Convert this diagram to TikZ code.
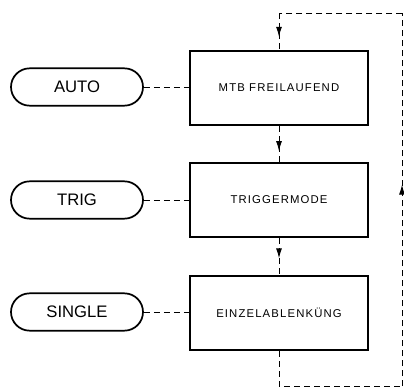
\documentclass[tikz,border=0pt]{standalone}
\usepackage{fontspec}
\setmainfont{Liberation Sans}
\usetikzlibrary{arrows.meta,positioning,shapes.misc,decorations.markings}
\tikzset{
  pill/.style  = {draw, line width=1.3pt, rounded rectangle, minimum width=103pt,
                  minimum height=28pt, inner sep=2pt, font=\fontsize{12.5}{14}\selectfont},
  blk/.style   = {draw, line width=1.5pt, minimum width=133pt, minimum height=56pt,
                  inner sep=2pt, font=\fontsize{8.5}{10}\selectfont\addfontfeatures{LetterSpace=10}},
  link/.style  = {dash pattern=on 4.5pt off 3pt, line width=0.75pt},
  midar/.style = {link, postaction={decorate}, decoration={markings,
                  mark=at position #1 with {\pgfsetdash{}{0pt}\arrow{Latex[length=7.5pt,width=4.5pt]}}}}
}

\begin{document}
\begin{tikzpicture}[x=0.75pt, y=-0.75pt]
\useasboundingbox (0,0) rectangle (404,389);
% ---- modes ----
\node[pill] (auto)   at (77,87)  {AUTO};
\node[pill] (trigm)  at (77,200) {TRIG};
\node[pill] (single) at (77,312) {SINGLE};

% ---- sweep blocks ----
\node[blk] (free) at (279,88)  {MTB FREILAUFEND};
\node[blk] (trig) at (279,200) {TRIGGERMODE};
\node[blk] (einz) at (279,313) {EINZELABLENKÜNG};

% ---- mode to block ----
\draw[link] (auto.east)   -- (auto.east -| free.west);
\draw[link] (trigm.east)  -- (trigm.east -| trig.west);
\draw[link] (single.east) -- (single.east -| einz.west);

% ---- down the spine ----
\draw[midar=0.7]  (free) -- (trig);
\draw[midar=0.55] (trig) -- (einz);

% ---- return loop ----
\coordinate (bl) at (279,386);
\coordinate (br) at (402,386);
\coordinate (tr) at (402,13);
\coordinate (tl) at (279,13);
\draw[link] (einz) -- (bl) -- (br);
\draw[midar=0.54] (br) -- (tr);
\draw[link] (tr) -- (tl);
\draw[midar=0.65] (tl) -- (free);
\end{tikzpicture}
\end{document}
